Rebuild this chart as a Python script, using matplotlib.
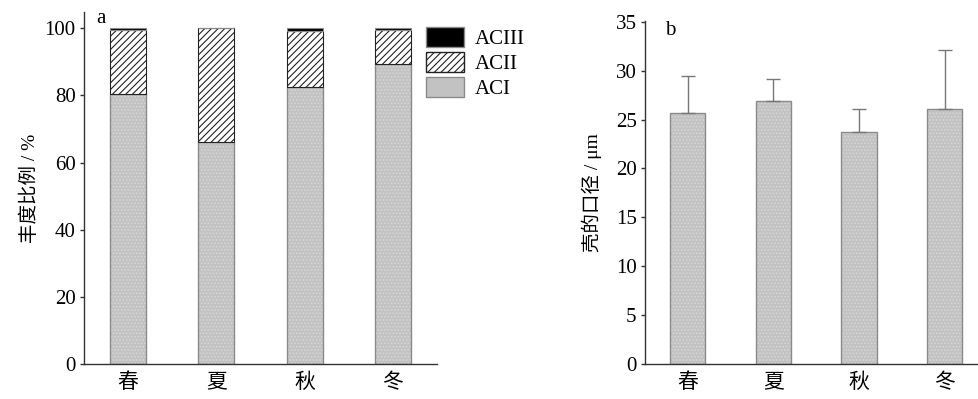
import numpy as np
import matplotlib
matplotlib.use("Agg")
import matplotlib.pyplot as plt
from matplotlib.patches import Patch

plt.rcParams['font.family'] = ['Liberation Serif', 'Noto Sans CJK SC']
plt.rcParams['hatch.linewidth'] = 0.8

# data
seasons = ['春', '夏', '秋', '冬']
aci = [80.4, 66.1, 82.5, 89.2]
acii = [19.1, 33.9, 16.6, 10.4]
aciii = [0.5, 0.0, 0.9, 0.4]
diameter = [25.7, 26.9, 23.7, 26.1]
diameter_sd = [3.8, 2.3, 2.4, 6.0]

gray_fill = '#c2c2c2'
dot_col = '#d6d6d6'
gray_edge = '#8a8a8a'
axis_col = '#333333'

fig = plt.figure(figsize=(9.79, 3.99), dpi=100)
ax1 = fig.add_axes([0.0858, 0.0877, 0.3606, 0.882])
ax2 = fig.add_axes([0.6588, 0.0877, 0.3402, 0.860])

x = np.arange(len(seasons))
w = 0.41


def stipple_bar(ax, xs, heights, **kw):
    # grey stippled fill, then an outline on top
    ax.bar(xs, heights, w, color=gray_fill, edgecolor=dot_col, hatch='.....',
           linewidth=0, **kw)
    ax.bar(xs, heights, w, fill=False, edgecolor=gray_edge, linewidth=1, **kw)


# panel a: stacked proportions
stipple_bar(ax1, x, aci)
ax1.bar(x, acii, w, bottom=aci, color='white', edgecolor='#222222',
        hatch='/////', linewidth=0.8)
bottom3 = np.array(aci) + np.array(acii)
ax1.bar(x, aciii, w, bottom=bottom3, color='black', edgecolor=gray_edge, linewidth=0.8)
ax1.set_ylim(0, 104.8)
ax1.set_xlim(-0.5, 3.5)
ax1.set_yticks([0, 20, 40, 60, 80, 100])
ax1.set_ylabel('丰度比例 / %', fontsize=14, labelpad=4)
ax1.text(0.035, 1.01, 'a', transform=ax1.transAxes, fontsize=15, va='top')

handles = [Patch(facecolor='black', edgecolor=gray_edge),
           Patch(facecolor='white', edgecolor='#222222', hatch='/////'),
           Patch(facecolor=gray_fill, edgecolor=gray_edge)]
fig.legend(handles, ['ACIII', 'ACII', 'ACI'], loc='upper left',
           bbox_to_anchor=(0.42, 0.97), frameon=False, fontsize=15,
           handlelength=1.85, handleheight=1.1, labelspacing=0.14,
           handletextpad=0.5, borderpad=0.2)

# panel b: diameter with error bars
stipple_bar(ax2, x, diameter)
ax2.errorbar(x, diameter, yerr=[np.zeros(4), diameter_sd], fmt='none',
             ecolor='#777777', elinewidth=1, capsize=5, capthick=1)
ax2.set_ylim(0, 35.1)
ax2.set_xlim(-0.5, 3.39)
ax2.set_yticks(np.arange(0, 36, 5))
ax2.set_ylabel('壳的口径 / μm', fontsize=14, labelpad=10)
ax2.text(0.06, 1.0, 'b', transform=ax2.transAxes, fontsize=15, va='top')

for ax in (ax1, ax2):
    for s in ('top', 'right'):
        ax.spines[s].set_visible(False)
    for s in ('left', 'bottom'):
        ax.spines[s].set_color(axis_col)
        ax.spines[s].set_linewidth(1)
    ax.set_xticks(x)
    ax.set_xticklabels(seasons, fontsize=15)
    ax.tick_params(axis='x', length=0, pad=7)
    ax.tick_params(axis='y', length=3, width=1, color=axis_col, labelsize=15, pad=3)

fig.savefig('out.png', dpi=100)
